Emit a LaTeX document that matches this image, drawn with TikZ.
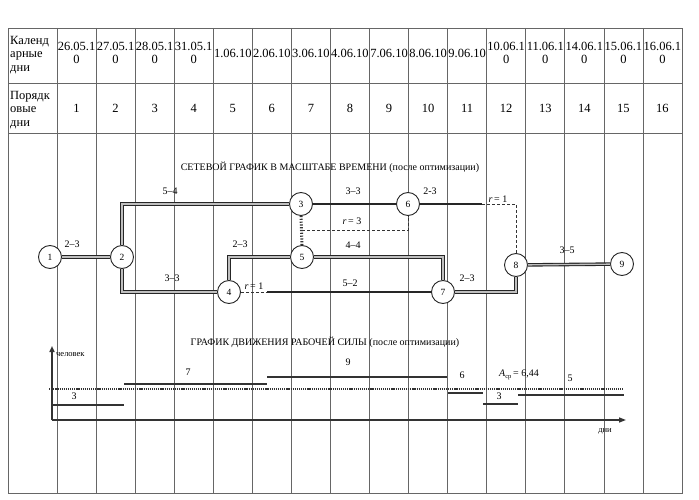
\documentclass[tikz,border=0pt]{standalone}
\usepackage{fontspec}
\setmainfont{Liberation Serif}
\usetikzlibrary{calc,arrows.meta}
\begin{document}
\begin{tikzpicture}[x=1pt,y=-1pt,
  grid/.style={draw=black!60, line width=0.7pt},
  hdr/.style={font=\fontsize{12.5}{13.5}\selectfont, align=center, inner sep=0pt},
  ev/.style={circle, draw=black!85, line width=0.9pt, fill=white, minimum size=23pt, inner sep=0pt, font=\fontsize{9.5}{10}\selectfont},
  dbl/.style={draw=black!85, line width=1.1pt, double=black!25, double distance=1.3pt},
  act/.style={draw=black!85, line width=1.5pt},
  dum/.style={draw=black!80, line width=0.8pt, dash pattern=on 3pt off 2pt},
  ladder/.style={draw=black!80, line width=3pt, dash pattern=on 1.2pt off 1.6pt},
  lbl/.style={font=\fontsize{10}{11}\selectfont, inner sep=1pt},
  ttl/.style={font=\fontsize{10}{11}\selectfont, inner sep=1pt},
  bar/.style={draw=black!80, line width=1.7pt},
  avg/.style={draw=black!80, line width=1.5pt, dash pattern=on 1.2pt off 0.9pt}
]
\path[use as bounding box] (0,0) rectangle (699,500);

% table
\draw[grid] (8,28) rectangle (682,493);
\draw[grid] (8,83) -- (682,83);
\draw[grid] (8,133) -- (682,133);
\foreach \i in {0,...,15} \draw[grid] ({57+39.0625*\i},28) -- ({57+39.0625*\i},493);

\node[hdr, align=left, anchor=west] (h1) at (10,55) {Календ\\арные\\дни};
\node[hdr, align=left, anchor=west] (h2) at (10,110) {Порядк\\овые\\дни};

\foreach \i/\t in {1/{26.05.1\\0}, 2/{27.05.1\\0}, 3/{28.05.1\\0}, 4/{31.05.1\\0},
  5/{1.06.10}, 6/{2.06.10}, 7/{3.06.10}, 8/{4.06.10}, 9/{7.06.10}, 10/{8.06.10},
  11/{9.06.10}, 12/{10.06.1\\0}, 13/{11.06.1\\0}, 14/{14.06.1\\0}, 15/{15.06.1\\0}, 16/{16.06.1\\0}}
{
  \node[hdr] (d\i) at ({57+39.0625*(\i-0.5)},53) {\t};
  \node[hdr] (n\i) at ({57+39.0625*(\i-0.5)},108) {\i};
}

% network title
\node[ttl] (t1) at (330,167) {СЕТЕВОЙ ГРАФИК В МАСШТАБЕ ВРЕМЕНИ (после оптимизации)};

% events
\node[ev] (e1) at (50,257) {1};
\node[ev] (e2) at (122,257) {2};
\node[ev] (e3) at (301,204) {3};
\node[ev] (e4) at (229,292) {4};
\node[ev] (e5) at (302,257) {5};
\node[ev] (e6) at (408,204) {6};
\node[ev] (e7) at (443,292) {7};
\node[ev] (e8) at (516,265) {8};
\node[ev] (e9) at (622,264) {9};

\coordinate (c68) at (482,204);
\coordinate (c47) at (267,292);
\coordinate (c35) at (302,230);

% activities
\draw[dbl] (e1) -- (e2);
\draw[dbl] (e2.north) |- (e3.west);
\draw[dbl] (e2.south) |- (e4.west);
\draw[dbl] (e4.north) |- (e5.west);
\draw[act] (e3.east) -- (e6.west);
\draw[act] (e6.east) -- (c68);
\draw[dum] (c68) -| (e8.north);
\draw[ladder] (e3.south) -- (e5.north);
\draw[dum] (c35) -| (e6.south);
\draw[dbl] (e5.east) -| (e7.north);
\draw[dum] (e4.east) -- (c47);
\draw[act] (c47) -- (e7.west);
\draw[dbl] (e7.east) -| (e8.south);
\draw[dbl] (e8) -- (e9);

% labels
\node[lbl] (l12) at (72,244) {2–3};
\node[lbl] (l23) at (170,191) {5–4};
\node[lbl] (l24) at (172,278) {3–3};
\node[lbl] (l45) at (240,244) {2–3};
\node[lbl] (l36) at (353,191) {3–3};
\node[lbl] (l68) at (430,191) {2-3};
\node[lbl] (r68) at (498,199) {\textit{r}\,= 1};
\node[lbl] (r35) at (352,221) {\textit{r}\,= 3};
\node[lbl] (l57) at (353,245) {4–4};
\node[lbl] (r47) at (254,286) {\textit{r}\,= 1};
\node[lbl] (l47) at (350,283) {5–2};
\node[lbl] (l78) at (467,278) {2–3};
\node[lbl] (l89) at (567,250) {3–5};

% resource chart
\node[ttl] (t2) at (325,342) {ГРАФИК ДВИЖЕНИЯ РАБОЧЕЙ СИЛЫ (после оптимизации)};
\coordinate (o) at (52,420);
\coordinate (ytop) at (52,346);
\coordinate (xend) at (626,420);
\draw[draw=black!80, line width=1.5pt, -{Triangle[length=6pt,width=5pt]}] (o) -- (ytop);
\draw[draw=black!80, line width=1.5pt, -{Triangle[length=7pt,width=5pt]}] (o) -- (xend);
\node[font=\fontsize{8.5}{9}\selectfont, anchor=west, inner sep=0pt] (yl) at (56,355) {человек};
\node[font=\fontsize{8.5}{9}\selectfont, inner sep=0pt] (xl) at (605,431) {дни};

\coordinate (a0) at (49,389);
\coordinate (a1) at (623,389);
\draw[avg] (a0) -- (a1);

\coordinate (b1s) at (53,405);  \coordinate (b1e) at (124,405);
\coordinate (b2s) at (124,384); \coordinate (b2e) at (267,384);
\coordinate (b3s) at (267,377); \coordinate (b3e) at (447,377);
\coordinate (b4s) at (448,393); \coordinate (b4e) at (483,393);
\coordinate (b5s) at (483,404); \coordinate (b5e) at (518,404);
\coordinate (b6s) at (518,395); \coordinate (b6e) at (624,395);
\draw[bar] (b1s) -- (b1e);
\draw[bar] (b2s) -- (b2e);
\draw[bar] (b3s) -- (b3e);
\draw[bar] (b4s) -- (b4e);
\draw[bar] (b5s) -- (b5e);
\draw[bar] (b6s) -- (b6e);

\node[lbl] (w1) at (74,396) {3};
\node[lbl] (w2) at (188,372) {7};
\node[lbl] (w3) at (348,362) {9};
\node[lbl] (w4) at (462,375) {6};
\node[lbl] (w5) at (499,396) {3};
\node[lbl] (w6) at (570,378) {5};
\node[lbl] (wa) at (519,375) {\textit{A}\raisebox{-0.4ex}{\fontsize{6.5}{7}\selectfont ср}\,= 6,44};
\end{tikzpicture}
\end{document}
